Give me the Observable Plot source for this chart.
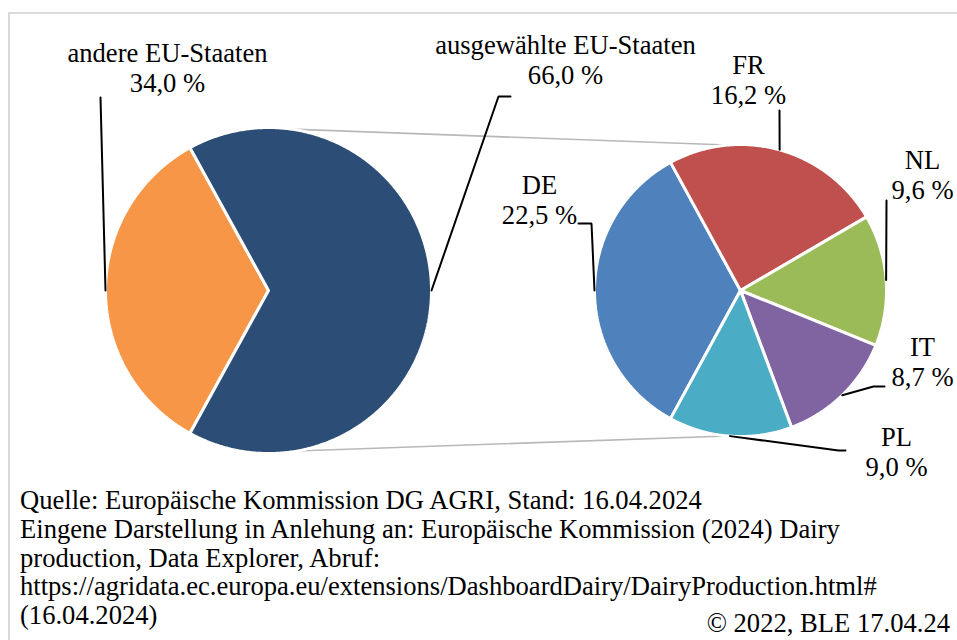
<!DOCTYPE html>
<html>
<head>
<meta charset="utf-8">
<script src="https://cdn.jsdelivr.net/npm/d3@7"></script>
<script src="https://cdn.jsdelivr.net/npm/@observablehq/plot@0.6"></script>
<style>
  html, body { margin: 0; padding: 0; background: #fff; }
  #wrap { position: relative; width: 957px; height: 640px; overflow: hidden; }
  #frame { position: absolute; left: 8px; top: 12px; width: 2000px; height: 2000px;
           border-left: 2px solid #dadada; border-top: 2px solid #dadada; pointer-events: none; }
  #chart svg { display: block; }
  #footer { position: relative; font-family: "Liberation Serif", Tinos, "Times New Roman", "Nimbus Roman", "DejaVu Serif", serif;
            font-size: 26.6px; line-height: 28.8px; color: #000; padding-left: 20px; }
  #footer div { white-space: nowrap; }
  #copy { position: absolute; right: 7px; top: 123px; line-height: 28.8px; white-space: nowrap; }
</style>
</head>
<body>
<div id="wrap">
  <div id="chart"></div>
  <div id="footer"></div>
  <div id="frame"></div>
</div>
<script>
// ---- data ----
const outerNames = ["andere EU-Staaten", "ausgewählte EU-Staaten"];
const outerValues = [34.0, 66.0];
const outerColors = ["#F79646", "#2C4D75"];

const innerNames = ["DE", "FR", "NL", "IT", "PL"];
const innerValues = [22.5, 16.2, 9.6, 8.7, 9.0];
const innerColors = ["#4F81BD", "#C0504D", "#9BBB59", "#8064A2", "#4BACC6"];

const footerLines = [
  "Quelle: Europäische Kommission DG AGRI, Stand: 16.04.2024",
  "Eingene Darstellung in Anlehung an: Europäische Kommission (2024) Dairy",
  "production, Data Explorer, Abruf:",
  "https://agridata.ec.europa.eu/extensions/DashboardDairy/DairyProduction.html#",
  "(16.04.2024)"
];
const copyright = "© 2022, BLE 17.04.24";

// ---- layout ----
const W = 957, H = 486;
const outerPie = {cx: 268, cy: 290, r: 163};
const innerPie = {cx: 740, cy: 290, r: 146};
const fontSize = 26.6;
const serif = "'Liberation Serif', Tinos, 'Times New Roman', 'Nimbus Roman', 'DejaVu Serif', serif";
// label positions (center x, baseline of last line) and leader start points
const labelLayout = {
  "andere EU-Staaten":      {x: 167, y: 91,  leader: [[100, 97]]},
  "ausgewählte EU-Staaten": {x: 565, y: 83,  leader: [[510, 96], [498, 96]]},
  "DE": {x: 539, y: 223, leader: [[578, 223], [591, 223]]},
  "FR": {x: 748, y: 103, leader: [[779, 110]]},
  "NL": {x: 922, y: 198, leader: [[886, 200]]},
  "IT": {x: 922, y: 385, leader: [[884, 386], [873, 386]]},
  "PL": {x: 896, y: 475, leader: [[845, 450], [838, 450]]}
};
// connector lines between the pies (angles in degrees, clockwise from top)
const connectorAngles = [[8, -5], [170, 185]];

const fmt = v => d3.format(".1f")(v).replace(".", ",") + " %";

function pieSlices(names, values, pie) {
  const total = d3.sum(values);
  const start = 1.5 * Math.PI - (values[0] / total) * Math.PI;
  const arcs = d3.pie().sort(null).startAngle(start).endAngle(start + 2 * Math.PI)(values);
  return arcs.map((a, i) => ({name: names[i], value: values[i], a0: a.startAngle, a1: a.endAngle, pie}));
}
const pt = (pie, a, r = pie.r) => [pie.cx + r * Math.sin(a), pie.cy - r * Math.cos(a)];

function polygon(slice) {
  const {pie, a0, a1, name} = slice;
  const pts = [{name, x: pie.cx, y: pie.cy}];
  const n = Math.max(2, Math.ceil((a1 - a0) / (Math.PI / 360)));
  for (let k = 0; k <= n; k++) {
    const [x, y] = pt(pie, a0 + (a1 - a0) * k / n);
    pts.push({name, x, y});
  }
  pts.push({name, x: pie.cx, y: pie.cy});
  return pts;
}

const slices = [
  ...pieSlices(outerNames, outerValues, outerPie),
  ...pieSlices(innerNames, innerValues, innerPie)
];
const polys = slices.flatMap(polygon);

const leaders = slices.flatMap(s => {
  const L = labelLayout[s.name];
  const [ex, ey] = pt(s.pie, (s.a0 + s.a1) / 2);
  return [...L.leader.map(([x, y]) => ({name: s.name, x, y})), {name: s.name, x: ex, y: ey}];
});

const connectors = connectorAngles.flatMap(([aL, aR], i) => {
  const [x1, y1] = pt(outerPie, aL * Math.PI / 180);
  const [x2, y2] = pt(innerPie, aR * Math.PI / 180);
  return [{id: i, x: x1, y: y1}, {id: i, x: x2, y: y2}];
});

const labels = slices.map(s => ({
  name: s.name,
  text: `${s.name}\n${fmt(s.value)}`,
  x: labelLayout[s.name].x,
  y: labelLayout[s.name].y
}));

const chart = Plot.plot({
  width: W,
  height: H,
  margin: 0,
  style: {background: "transparent", overflow: "visible"},
  x: {type: "linear", domain: [0, W], range: [0, W], axis: null},
  y: {type: "linear", domain: [0, H], range: [0, H], axis: null},
  color: {domain: [...outerNames, ...innerNames], range: [...outerColors, ...innerColors]},
  marks: [
    Plot.line(connectors, {x: "x", y: "y", z: "id", stroke: "#b8b8b8", strokeWidth: 1.6}),
    Plot.line(polys, {x: "x", y: "y", z: "name", fill: "name", stroke: "white", strokeWidth: 3, strokeLinejoin: "miter"}),
    Plot.line(leaders, {x: "x", y: "y", z: "name", stroke: "black", strokeWidth: 2, strokeLinejoin: "miter"}),
    Plot.text(labels, {
      x: "x", y: "y", text: "text",
      textAnchor: "middle", lineAnchor: "bottom", lineHeight: 1.1,
      fontFamily: serif, fontSize: fontSize, fill: "black"
    })
  ]
});
document.getElementById("chart").appendChild(chart);

const footer = document.getElementById("footer");
footerLines.forEach(t => {
  const d = document.createElement("div");
  d.textContent = t;
  footer.appendChild(d);
});
const c = document.createElement("div");
c.id = "copy";
c.textContent = copyright;
footer.appendChild(c);
</script>
</body>
</html>
